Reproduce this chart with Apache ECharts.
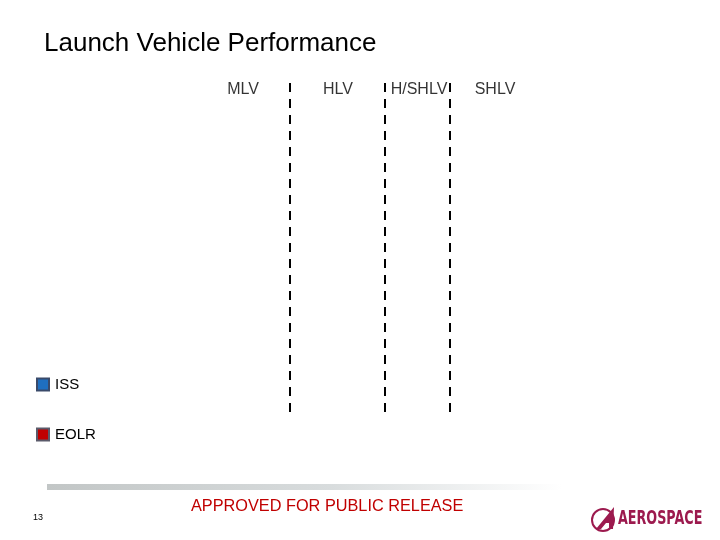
<!DOCTYPE html>
<html>
<head>
<meta charset="utf-8">
<script src="https://cdn.jsdelivr.net/npm/echarts@6/dist/echarts.min.js"></script>
<style>html,body{margin:0;padding:0;background:#fff;}#c{width:720px;height:540px;}</style>
</head>
<body>
<div id="c"></div>
<script>
// Vehicle class column labels and their positions along the (layout) x scale
var categories = ['MLV', 'HLV', 'H/SHLV', 'SHLV'];
var categoryPositions = [43, 138, 219, 295];
// Dashed separators between classes
var dividerPositions = [90, 185, 250];
// Legend series (no plotted values in the reference)
var seriesNames = ['ISS', 'EOLR'];
var issValues = [];
var eolrValues = [];

var chart = echarts.init(document.getElementById('c'));
var font = 'Liberation Sans, Arial, sans-serif';

var option = {
  animation: false,
  backgroundColor: '#ffffff',
  title: {
    text: 'Launch Vehicle Performance',
    left: 39, top: 26,
    textStyle: { fontFamily: font, fontSize: 26, fontWeight: 'normal', color: '#000' }
  },
  legend: {
    orient: 'vertical',
    left: 31, top: 372,
    itemGap: 35,
    itemWidth: 12, itemHeight: 12,
    icon: 'rect',
    data: seriesNames,
    textStyle: { fontFamily: font, fontSize: 15, color: '#000', padding: [0, 0, 0, 1] }
  },
  grid: { left: 200, right: 180, top: 77, bottom: 128 },
  xAxis: { type: 'value', min: 0, max: 340, show: false },
  yAxis: { type: 'value', min: 0, max: 1, show: false },
  series: [
    {
      type: 'scatter',
      symbolSize: 0,
      silent: true,
      data: categories.map(function (c, i) { return { name: c, value: [categoryPositions[i], 1] }; }),
      label: {
        show: true, position: 'inside', offset: [0, 13],
        formatter: function (p) { return p.name; },
        fontFamily: font, fontSize: 16, color: '#000'
      },
      markLine: {
        silent: true,
        symbol: ['none', 'none'],
        label: { show: false },
        lineStyle: { color: '#000', width: 2, type: [9, 7] },
        data: dividerPositions.map(function (x) { return { xAxis: x }; })
      }
    },
    {
      name: seriesNames[0], type: 'bar', data: issValues,
      itemStyle: { color: '#1f6fc0', borderColor: '#3a4a6a', borderWidth: 1 }
    },
    {
      name: seriesNames[1], type: 'bar', data: eolrValues,
      itemStyle: { color: '#c00000', borderColor: '#5a5a6a', borderWidth: 1 }
    }
  ],
  graphic: [
    {
      type: 'rect', left: 47, top: 484, silent: true,
      shape: { width: 515, height: 6 },
      style: {
        fill: new echarts.graphic.LinearGradient(0, 0, 1, 0, [
          { offset: 0, color: '#c2c6c6' },
          { offset: 0.55, color: '#d8dcdd' },
          { offset: 1, color: '#ffffff' }
        ])
      }
    },
    {
      type: 'text', left: 33, top: 513,
      style: { text: '13', fontFamily: font, fontSize: 9, fill: '#000' }
    },
    {
      type: 'text', left: 191, top: 499,
      style: { text: 'APPROVED FOR PUBLIC RELEASE', fontFamily: font, fontSize: 16.3, fill: '#c00000' }
    },
    {
      type: 'circle', shape: { cx: 603, cy: 520, r: 11 },
      style: { fill: 'none', stroke: '#9c1a4e', lineWidth: 2 }
    },
    {
      type: 'polygon',
      shape: { points: [[614, 507], [596, 529], [601, 529], [606, 523], [609, 523], [609, 529], [613, 529]] },
      style: { fill: '#9c1a4e' }
    },
    {
      type: 'text', left: 618, top: 510,
      scaleX: 0.67,
      style: { text: 'AEROSPACE', fontFamily: 'DejaVu Sans', fontWeight: 'bold', fontSize: 19, fill: '#9c1a4e' }
    }
  ]
};
chart.setOption(option);
</script>
</body>
</html>
